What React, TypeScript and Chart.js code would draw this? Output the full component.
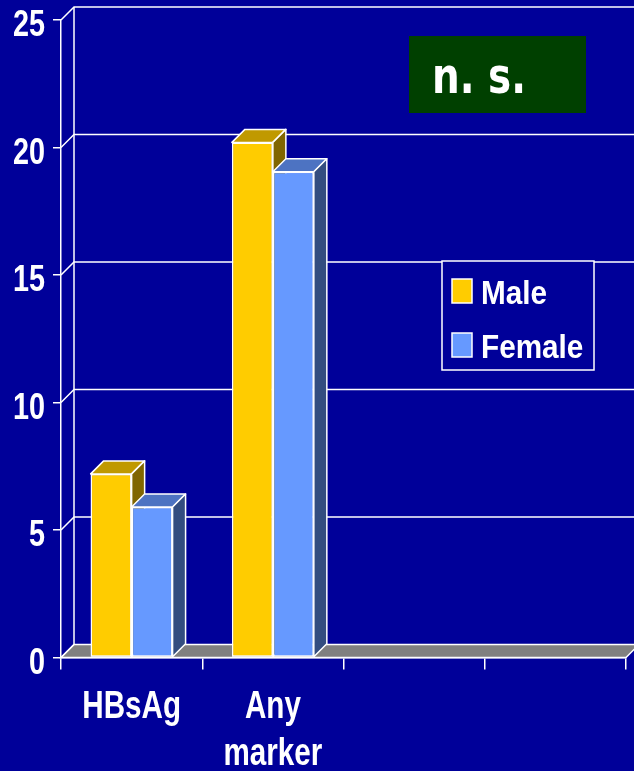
import React, { useEffect, useRef } from "react";
import { Chart, registerables } from "chart.js";

Chart.register(...registerables);

// ---- data ----
const categories: (string | string[])[] = ["HBsAg", ["Any", "marker"], "", ""];
const seriesNames = ["Male", "Female"];
const maleValues: (number | null)[] = [7.2, 20.2, null, null];
const femaleValues: (number | null)[] = [5.9, 19.05, null, null];
const yTicks = [0, 5, 10, 15, 20, 25];
const annotationText = "n. s.";

// ---- styles ----
const BG = "#000099";
const DEPTH = 13;
const FRONT = ["#FFCC00", "#6699FF"];
const TOP = ["#C09900", "#4D73C2"];
const SIDE = ["#806600", "#334D80"];
const FLOOR = "#808080";
const SANS = "'Liberation Sans', Arial, sans-serif";

const bgPlugin = {
  id: "bg",
  beforeDraw(chart: any) {
    const { ctx, width, height } = chart;
    ctx.save();
    ctx.fillStyle = BG;
    ctx.fillRect(0, 0, width, height);
    ctx.restore();
  },
};

const wallPlugin = {
  id: "wall",
  beforeDatasetsDraw(chart: any) {
    const { ctx, chartArea, scales } = chart;
    const y = scales.y;
    const L = chartArea.left;
    const R = chartArea.right;
    const B = y.getPixelForValue(0);
    const D = DEPTH;
    ctx.save();
    ctx.lineWidth = 1.5;
    ctx.strokeStyle = "#ffffff";
    ctx.fillStyle = FLOOR;
    ctx.beginPath();
    ctx.moveTo(L, B);
    ctx.lineTo(R, B);
    ctx.lineTo(R + D, B - D);
    ctx.lineTo(L + D, B - D);
    ctx.closePath();
    ctx.fill();
    ctx.stroke();
    ctx.beginPath();
    ctx.moveTo(L + D, y.getPixelForValue(yTicks[yTicks.length - 1]) - D);
    ctx.lineTo(L + D, B - D);
    ctx.stroke();
    yTicks.forEach((v) => {
      const yy = y.getPixelForValue(v);
      ctx.beginPath();
      ctx.moveTo(L, yy);
      ctx.lineTo(L + D, yy - D);
      if (v !== 0) ctx.lineTo(chart.width, yy - D);
      ctx.stroke();
    });
    ctx.restore();
  },
};

const bar3dPlugin = {
  id: "bar3d",
  afterDatasetsDraw(chart: any) {
    const { ctx } = chart;
    const D = DEPTH;
    const n = chart.data.labels.length;
    const metas = chart.data.datasets.map((_: any, i: number) => chart.getDatasetMeta(i));
    for (let i = 0; i < n; i++) {
      metas.forEach((meta: any, d: number) => {
        const v = chart.data.datasets[d].data[i];
        if (v === null || v === undefined) return;
        const el = meta.data[i];
        const { x, y: top, base, width } = el.getProps(["x", "y", "base", "width"], true);
        const l = x - width / 2;
        const r = x + width / 2;
        el.draw(ctx);
        ctx.save();
        ctx.lineWidth = 1.5;
        ctx.strokeStyle = "#ffffff";
        ctx.lineJoin = "round";
        ctx.fillStyle = TOP[d];
        ctx.beginPath();
        ctx.moveTo(l, top);
        ctx.lineTo(l + D, top - D);
        ctx.lineTo(r + D, top - D);
        ctx.lineTo(r, top);
        ctx.closePath();
        ctx.fill();
        ctx.stroke();
        ctx.fillStyle = SIDE[d];
        ctx.beginPath();
        ctx.moveTo(r, top);
        ctx.lineTo(r + D, top - D);
        ctx.lineTo(r + D, base - D);
        ctx.lineTo(r, base);
        ctx.closePath();
        ctx.fill();
        ctx.stroke();
        ctx.restore();
      });
    }
  },
};

// axis labels drawn from the scales' ticks, horizontally condensed like the original
const axisLabelPlugin = {
  id: "axisLabels",
  afterDraw(chart: any) {
    const { ctx, scales } = chart;
    const x = scales.x;
    const y = scales.y;
    ctx.save();
    ctx.fillStyle = "#ffffff";
    ctx.textBaseline = "alphabetic";
    // y tick labels
    ctx.font = `bold 36px ${SANS}`;
    ctx.textAlign = "right";
    y.ticks.forEach((t: any) => {
      const py = y.getPixelForValue(t.value);
      ctx.save();
      ctx.translate(x.left - 16, py + 16);
      ctx.scale(0.8, 1);
      ctx.fillText(String(t.value), 0, 0);
      ctx.restore();
    });
    // x category labels
    ctx.font = `bold 39px ${SANS}`;
    ctx.textAlign = "center";
    chart.data.labels.forEach((lab: any, i: number) => {
      const px = x.getPixelForTick(i);
      const lines = Array.isArray(lab) ? lab : [lab];
      lines.forEach((ln: string, j: number) => {
        if (!ln) return;
        ctx.save();
        ctx.translate(px, y.bottom + 60.5 + j * 47);
        ctx.scale(0.76, 1);
        ctx.fillText(ln, 0, 0);
        ctx.restore();
      });
    });
    ctx.restore();
  },
};

const overlayPlugin = {
  id: "overlay",
  afterDraw(chart: any) {
    const { ctx } = chart;
    ctx.save();
    ctx.fillStyle = "#004000";
    ctx.fillRect(409, 36, 177, 77);
    ctx.fillStyle = "#ffffff";
    ctx.font = "bold 50px 'DejaVu Sans', Verdana, sans-serif";
    ctx.textBaseline = "alphabetic";
    ctx.textAlign = "left";
    const w = ctx.measureText(annotationText).width;
    ctx.save();
    ctx.translate(432, 93);
    ctx.scale(94 / w, 1);
    ctx.fillText(annotationText, 0, 0);
    ctx.restore();

    ctx.fillStyle = BG;
    ctx.fillRect(442, 261, 152, 109);
    ctx.strokeStyle = "#ffffff";
    ctx.lineWidth = 1.5;
    ctx.strokeRect(442, 261, 152, 109);
    chart.data.datasets.forEach((ds: any, i: number) => {
      const sy = 279 + i * 54;
      ctx.fillStyle = FRONT[i];
      ctx.fillRect(452, sy, 20, 24);
      ctx.strokeStyle = "#ffffff";
      ctx.lineWidth = 1.5;
      ctx.strokeRect(452, sy, 20, 24);
      ctx.fillStyle = "#ffffff";
      ctx.font = `bold 33px ${SANS}`;
      ctx.save();
      ctx.translate(481, sy + 25);
      ctx.scale(0.9, 1);
      ctx.fillText(ds.label, 0, 0);
      ctx.restore();
    });
    ctx.restore();
  },
};

export default function App() {
  const ref = useRef<HTMLCanvasElement>(null);
  useEffect(() => {
    document.body.style.margin = "0";
    document.body.style.background = BG;
    const chart = new Chart(ref.current as HTMLCanvasElement, {
      type: "bar",
      data: {
        labels: categories as any,
        datasets: [
          {
            label: seriesNames[0],
            data: maleValues,
            backgroundColor: FRONT[0],
            borderColor: "#ffffff",
            borderWidth: 1.5,
            borderSkipped: false,
            categoryPercentage: 0.58,
            barPercentage: 1,
          },
          {
            label: seriesNames[1],
            data: femaleValues,
            backgroundColor: FRONT[1],
            borderColor: "#ffffff",
            borderWidth: 1.5,
            borderSkipped: false,
            categoryPercentage: 0.58,
            barPercentage: 1,
          },
        ],
      },
      options: {
        responsive: false,
        animation: false,
        layout: { padding: { top: 20, right: 8, left: 0, bottom: 0 } },
        plugins: { legend: { display: false }, tooltip: { enabled: false } },
        scales: {
          x: {
            grid: {
              display: true,
              drawOnChartArea: false,
              color: "#ffffff",
              lineWidth: 1.5,
              tickLength: 12,
              offset: true,
            },
            border: { display: true, color: "#ffffff", width: 1.5 },
            ticks: { display: false, autoSkip: false },
            afterFit: (s: any) => {
              s.height = 113.5;
            },
          },
          y: {
            min: 0,
            max: 25,
            afterBuildTicks: (s: any) => {
              s.ticks = yTicks.map((v) => ({ value: v }));
            },
            ticks: { display: false },
            grid: {
              drawOnChartArea: false,
              color: "#ffffff",
              lineWidth: 1.5,
              tickLength: 8,
            },
            border: { display: true, color: "#ffffff", width: 1.5 },
            afterFit: (s: any) => {
              s.width = 61;
            },
          },
        },
      } as any,
      plugins: [bgPlugin, wallPlugin, bar3dPlugin, axisLabelPlugin, overlayPlugin],
    });
    return () => chart.destroy();
  }, []);
  return (
    <canvas
      ref={ref}
      width={634}
      height={771}
      style={{ display: "block", width: 634, height: 771 }}
    />
  );
}
